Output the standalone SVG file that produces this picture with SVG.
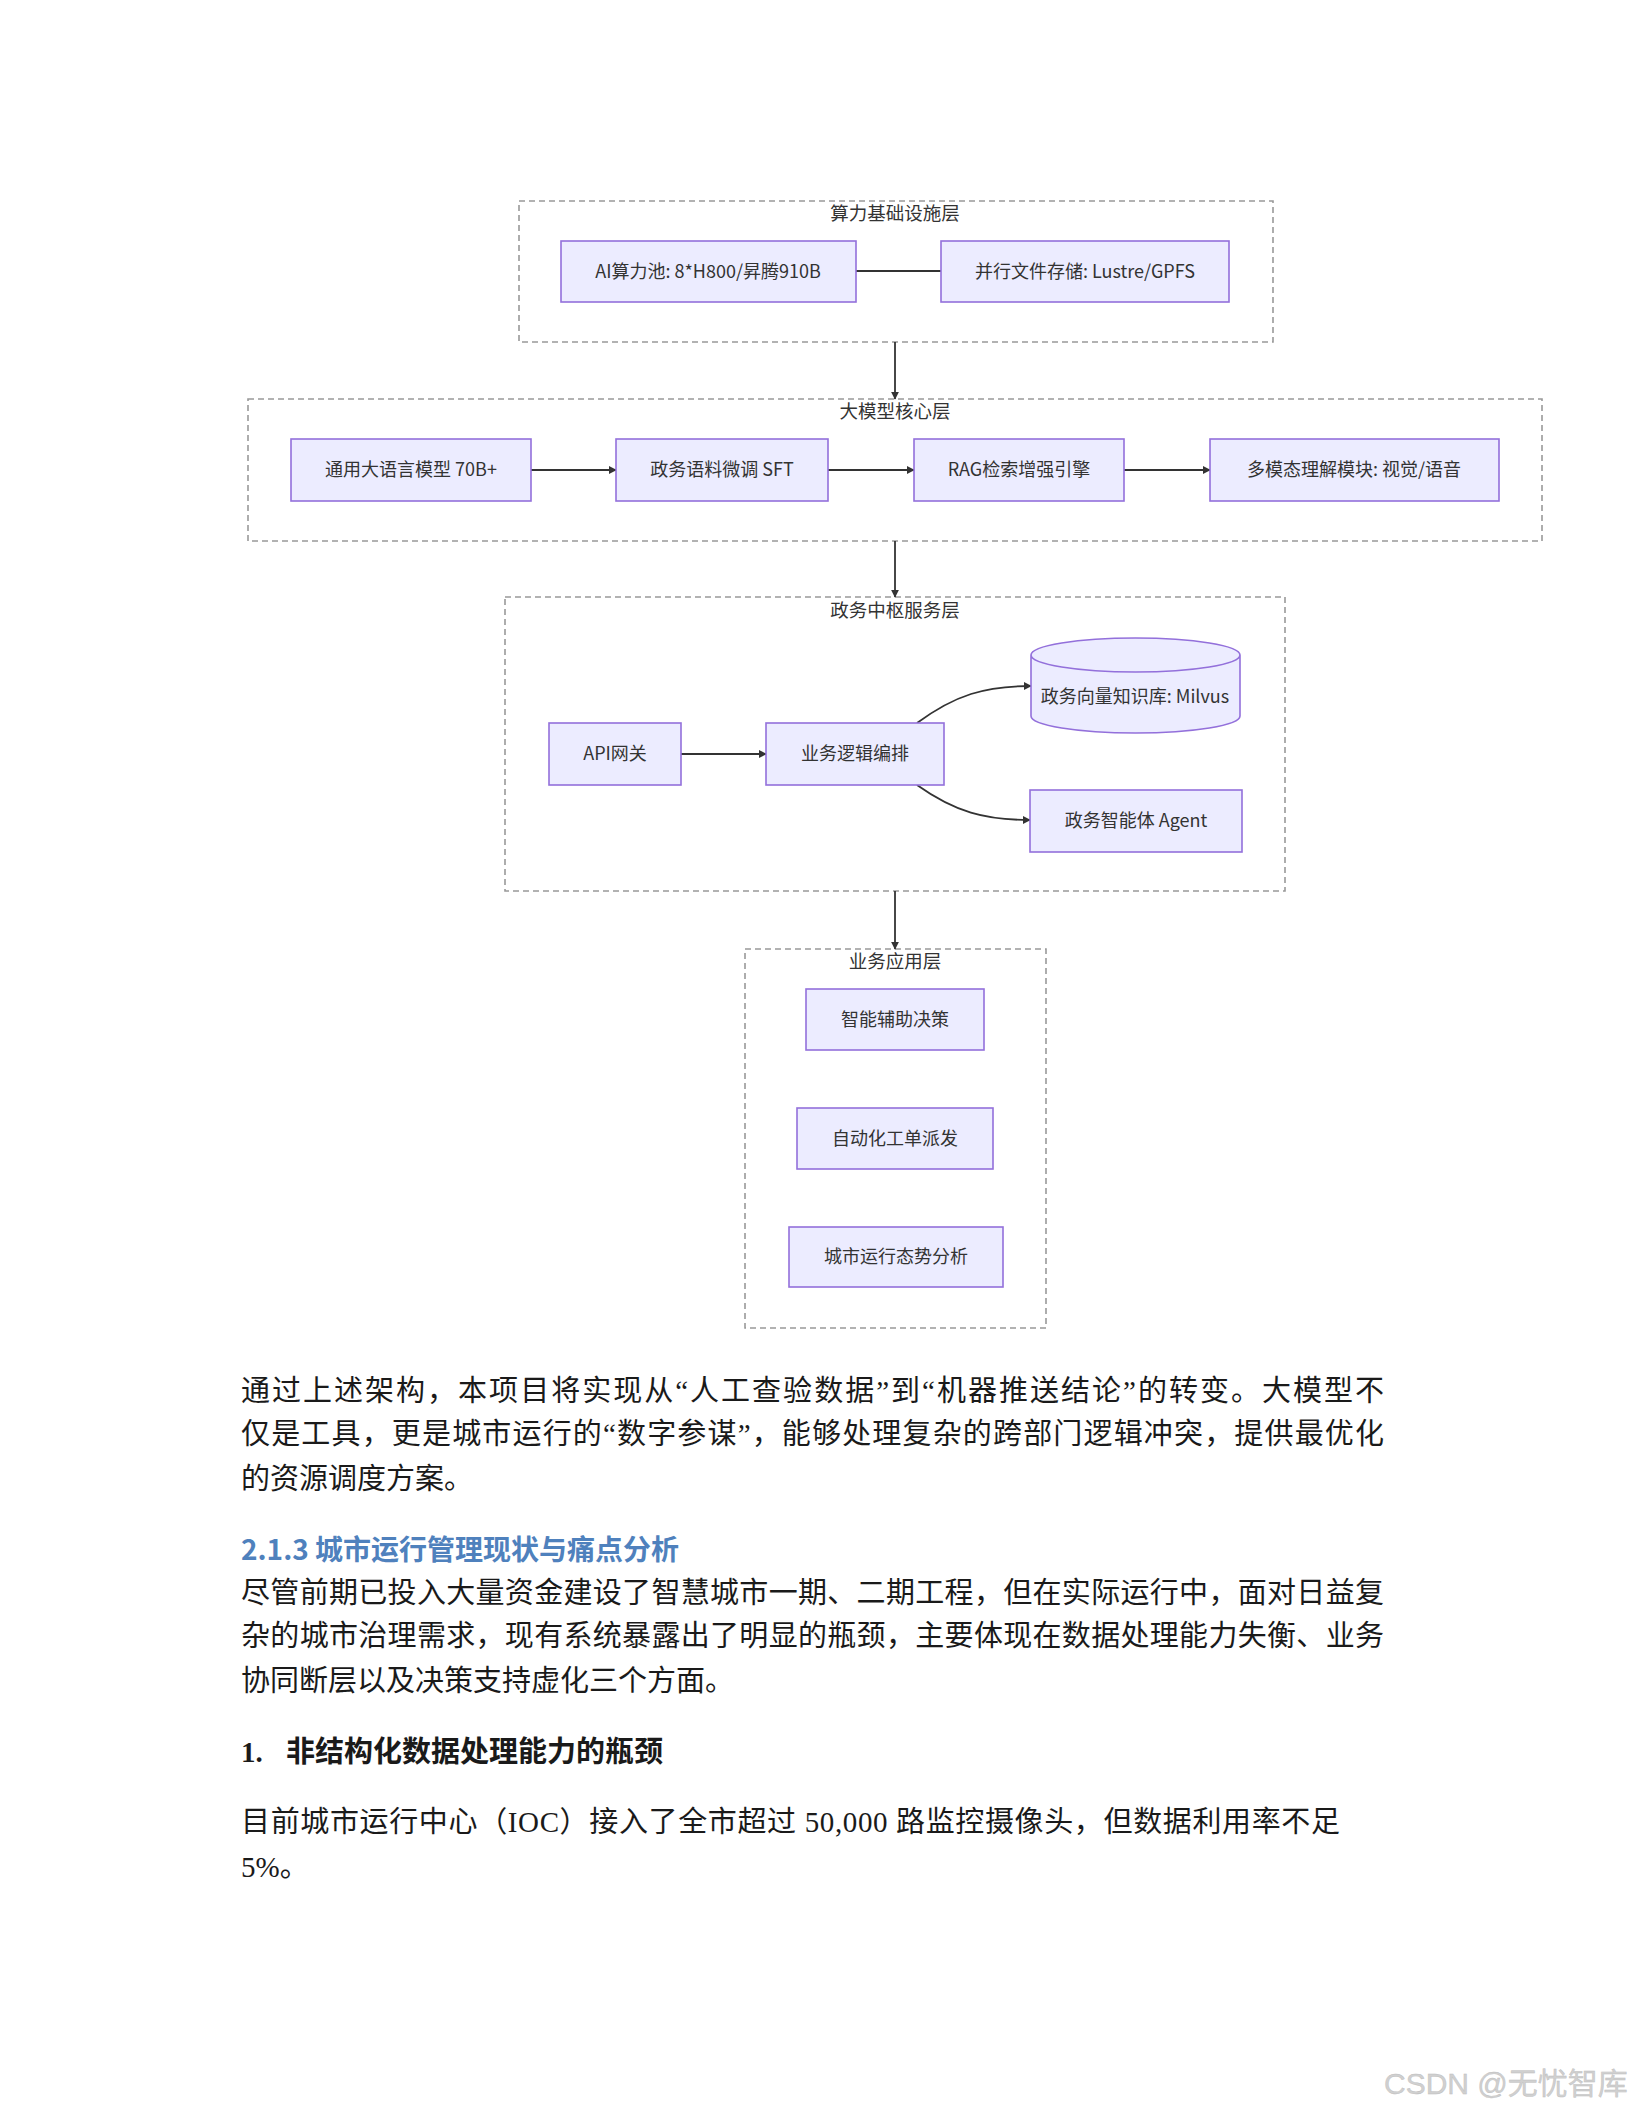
<svg xmlns="http://www.w3.org/2000/svg" width="1632" height="2112" viewBox="0 0 1632 2112">
<defs>
<style>
.cluster{fill:#ffffff;stroke:#999999;stroke-width:1.6;stroke-dasharray:6 4}
.node{fill:#ECECFF;stroke:#9370DB;stroke-width:1.6}
.ct{font-family:"Noto Sans CJK SC","Noto Sans",sans-serif;font-size:18.5px;fill:#333333;text-anchor:middle}
.nt{font-family:"Noto Sans CJK SC","Noto Sans",sans-serif;font-size:18px;fill:#333333;text-anchor:middle;dominant-baseline:central}
.edge{fill:none;stroke:#333333;stroke-width:1.8}
.body{font-family:"Liberation Serif","Noto Sans CJK SC",serif;font-size:29px;fill:#1a1a1a}
.h{font-family:"Noto Sans CJK SC","Liberation Sans",sans-serif;font-size:28px;font-weight:bold;fill:#4F81BD}
.b{font-family:"Liberation Serif","Noto Sans CJK SC",serif;font-size:29px;font-weight:bold;fill:#1a1a1a}
</style>
<marker id="arr" viewBox="0 0 10 10" refX="9" refY="5" markerWidth="8" markerHeight="8" orient="auto" markerUnits="userSpaceOnUse">
<path d="M0,0 L10,5 L0,10 z" fill="#333333"/>
</marker>
</defs>
<rect width="1632" height="2112" fill="#ffffff"/>

<g id="layer-infra">
<rect class="cluster" x="519" y="201" width="754" height="141"/>
<text class="ct" x="895" y="220">算力基础设施层</text>
</g>
<g id="layer-model">
<rect class="cluster" x="248" y="399" width="1294" height="142"/>
<text class="ct" x="895" y="418">大模型核心层</text>
</g>
<g id="layer-hub">
<rect class="cluster" x="505" y="597" width="780" height="294"/>
<text class="ct" x="895" y="617">政务中枢服务层</text>
</g>
<g id="layer-app">
<rect class="cluster" x="745" y="949" width="301" height="379"/>
<text class="ct" x="895" y="968">业务应用层</text>
</g>

<g id="connectors">
<line class="edge" x1="856" y1="271" x2="941" y2="271"/>
<line class="edge" x1="895" y1="342" x2="895" y2="399" marker-end="url(#arr)"/>
<line class="edge" x1="531" y1="470" x2="616" y2="470" marker-end="url(#arr)"/>
<line class="edge" x1="828" y1="470" x2="914" y2="470" marker-end="url(#arr)"/>
<line class="edge" x1="1124" y1="470" x2="1210" y2="470" marker-end="url(#arr)"/>
<line class="edge" x1="895" y1="541" x2="895" y2="597" marker-end="url(#arr)"/>
<line class="edge" x1="681" y1="754" x2="766" y2="754" marker-end="url(#arr)"/>
<path class="edge" d="M917,723 C955,695 985,686 1031,686" marker-end="url(#arr)"/>
<path class="edge" d="M917,785 C955,812 985,820 1030,820" marker-end="url(#arr)"/>
<line class="edge" x1="895" y1="891" x2="895" y2="949" marker-end="url(#arr)"/>
</g>

<g id="n-ai"><rect class="node" x="561" y="241" width="295" height="61"/><text class="nt" x="708" y="270">AI算力池: 8*H800/昇腾910B</text></g>
<g id="n-fs"><rect class="node" x="941" y="241" width="288" height="61"/><text class="nt" x="1085" y="270">并行文件存储: Lustre/GPFS</text></g>

<g id="n-llm"><rect class="node" x="291" y="439" width="240" height="62"/><text class="nt" x="411" y="468">通用大语言模型 70B+</text></g>
<g id="n-sft"><rect class="node" x="616" y="439" width="212" height="62"/><text class="nt" x="722" y="468">政务语料微调 SFT</text></g>
<g id="n-rag"><rect class="node" x="914" y="439" width="210" height="62"/><text class="nt" x="1019" y="468">RAG检索增强引擎</text></g>
<g id="n-mm"><rect class="node" x="1210" y="439" width="289" height="62"/><text class="nt" x="1354" y="468">多模态理解模块: 视觉/语音</text></g>

<g id="n-api"><rect class="node" x="549" y="723" width="132" height="62"/><text class="nt" x="615" y="752">API网关</text></g>
<g id="n-logic"><rect class="node" x="766" y="723" width="178" height="62"/><text class="nt" x="855" y="752">业务逻辑编排</text></g>
<g id="n-kb"><path class="node" d="M1031,655 a104.5,17 0 0 0 209,0 a104.5,17 0 0 0 -209,0 l0,61 a104.5,17 0 0 0 209,0 l0,-61"/><text class="nt" x="1135" y="695">政务向量知识库: Milvus</text></g>
<g id="n-agent"><rect class="node" x="1030" y="790" width="212" height="62"/><text class="nt" x="1136" y="819">政务智能体 Agent</text></g>

<g id="n-dec"><rect class="node" x="806" y="989" width="178" height="61"/><text class="nt" x="895" y="1018">智能辅助决策</text></g>
<g id="n-order"><rect class="node" x="797" y="1108" width="196" height="61"/><text class="nt" x="895" y="1137">自动化工单派发</text></g>
<g id="n-city"><rect class="node" x="789" y="1227" width="214" height="60"/><text class="nt" x="896" y="1255">城市运行态势分析</text></g>

<text class="body" x="241" y="1401" textLength="1143" lengthAdjust="spacing">通过上述架构，本项目将实现从“人工查验数据”到“机器推送结论”的转变。大模型不</text>
<text class="body" x="241" y="1444" textLength="1143" lengthAdjust="spacing">仅是工具，更是城市运行的“数字参谋”，能够处理复杂的跨部门逻辑冲突，提供最优化</text>
<text class="body" x="241" y="1489">的资源调度方案。</text>

<text class="h" x="241" y="1560">2.1.3 城市运行管理现状与痛点分析</text>

<text class="body" x="241" y="1603" textLength="1143" lengthAdjust="spacing">尽管前期已投入大量资金建设了智慧城市一期、二期工程，但在实际运行中，面对日益复</text>
<text class="body" x="241" y="1646" textLength="1143" lengthAdjust="spacing">杂的城市治理需求，现有系统暴露出了明显的瓶颈，主要体现在数据处理能力失衡、业务</text>
<text class="body" x="241" y="1691">协同断层以及决策支持虚化三个方面。</text>

<text class="b" x="241" y="1762">1.</text>
<text class="b" x="286" y="1762">非结构化数据处理能力的瓶颈</text>

<text class="body" x="241" y="1832" textLength="1099" lengthAdjust="spacing">目前城市运行中心（IOC）接入了全市超过 50,000 路监控摄像头，但数据利用率不足</text>
<text class="body" x="241" y="1877">5%。</text>

<text x="1384" y="2094" font-family="'Liberation Sans','Noto Sans CJK SC',sans-serif" font-size="30" fill="#d0d0d0" stroke="#bdbdbd" stroke-width="0.4">CSDN @无忧智库</text>
</svg>
